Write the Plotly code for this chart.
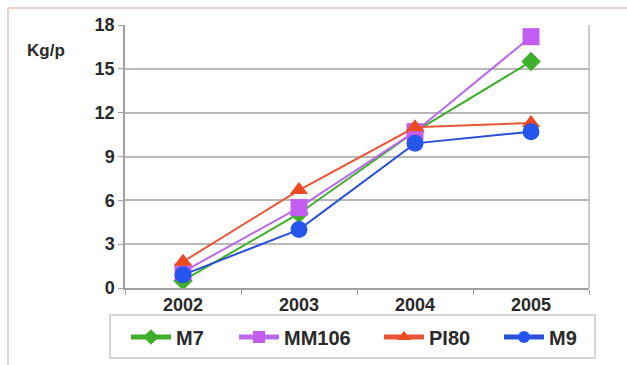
import plotly.graph_objects as go

years = ["2002", "2003", "2004", "2005"]
m7 = [0.5, 5.1, 10.7, 15.5]
mm106 = [1.1, 5.5, 10.7, 17.2]
pi80 = [1.8, 6.7, 11.0, 11.3]
m9 = [0.9, 4.0, 9.9, 10.7]
y_ticks = [0, 3, 6, 9, 12, 15, 18]

series = [
    ("M7", m7, "#3fae2a", "#3fae2a", "diamond", 15, "legend", 130),
    ("MM106", mm106, "#b86aea", "#c35cf0", "square", 17, "legend2", 238),
    ("PI80", pi80, "#e8563a", "#ee4a22", "triangle-up", 16, "legend3", 383),
    ("M9", m9, "#2a4fd8", "#2456ee", "circle", 17, "legend4", 503),
]

W, H = 627, 365
L, R, T, B = 125, 589, 25, 288
pw, ph = R - L, B - T

def px(x):
    return (x - L) / pw

def py(y):
    return (B - y) / ph

fig = go.Figure()
legends = {}
for name, vals, lc, mc, sym, sz, lg, lx in series:
    fig.add_trace(go.Scatter(
        x=years, y=vals, name=name, mode="lines+markers",
        line=dict(color=lc, width=2),
        marker=dict(symbol=sym, size=sz, color=mc),
        legend=lg,
    ))
    legends[lg] = dict(
        orientation="h", x=px(lx - 4), xanchor="left", y=py(337), yanchor="middle",
        borderwidth=0, bgcolor="rgba(0,0,0,0)",
        font=dict(size=20, weight="bold", color="#2a2a2a"),
        itemwidth=40, itemsizing="constant",
    )

fig.update_layout(
    width=W, height=H,
    margin=dict(l=L, r=W - R, t=T, b=H - B, autoexpand=False),
    paper_bgcolor="white", plot_bgcolor="white",
    font=dict(family="Liberation Sans, Arial, sans-serif", color="#2a2a2a", size=18),
    showlegend=True,
    **legends,
    xaxis=dict(
        type="category", range=[-0.5, 3.5], showgrid=False,
        showline=True, linecolor="#a0a0a0", linewidth=1.5, mirror=False,
        ticks="outside", tickson="boundaries", ticklen=5, tickcolor="#a0a0a0",
        tickfont=dict(size=18, weight="bold", color="#2a2a2a"),
        zeroline=False,
    ),
    yaxis=dict(
        range=[0, 18], tickvals=y_ticks, showgrid=True, gridcolor="#b8b8b8", gridwidth=1.5,
        showline=True, linecolor="#a0a0a0", linewidth=1.5,
        ticks="outside", ticklen=5, tickcolor="#a0a0a0",
        tickfont=dict(size=18, weight="bold", color="#2a2a2a"),
        zeroline=False,
    ),
    shapes=[
        dict(type="line", xref="paper", yref="paper", x0=1, x1=1, y0=0, y1=1,
             line=dict(color="#b8b8b8", width=1.5)),
        dict(type="rect", xref="paper", yref="paper", x0=px(110), x1=px(595), y0=py(315), y1=py(358),
             line=dict(color="#c8c8c8", width=1.5), fillcolor="rgba(0,0,0,0)"),
        dict(type="line", xref="paper", yref="paper", x0=px(8), x1=px(627), y0=py(8), y1=py(8),
             line=dict(color="#f3d2cc", width=2)),
        dict(type="line", xref="paper", yref="paper", x0=px(8), x1=px(8), y0=py(8), y1=py(365),
             line=dict(color="#f3d2cc", width=2)),
    ],
    annotations=[
        dict(text="Kg/p", xref="paper", yref="paper", x=px(46), y=py(51),
             xanchor="center", yanchor="middle",
             showarrow=False, font=dict(size=17, weight="bold", color="#2a2a2a")),
    ],
)

fig.write_html(
    "out.html",
    config={"displayModeBar": False},
    post_script="document.body.style.margin='0';document.body.style.overflow='hidden';",
)
